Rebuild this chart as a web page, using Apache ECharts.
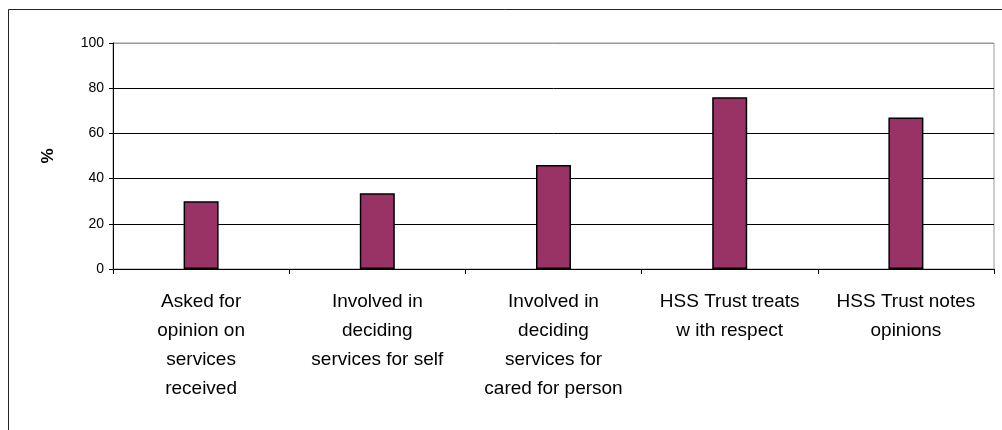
<!DOCTYPE html>
<html>
<head>
<meta charset="utf-8">
<script src="https://cdn.jsdelivr.net/npm/echarts@6/dist/echarts.min.js"></script>
<style>
  html, body { margin: 0; padding: 0; background: #fff; }
  #chart { width: 1002px; height: 430px; }
</style>
</head>
<body>
<div id="chart"></div>
<script>
// survey questions (wrapped like the original)
var categories = [
    'Asked for\nopinion on\nservices\nreceived',
    'Involved in\ndeciding\nservices for self',
    'Involved in\ndeciding\nservices for\ncared for person',
    'HSS Trust treats\nw ith respect',
    'HSS Trust notes\nopinions'
];
var percents = [30, 33.5, 46, 76, 67];
var yTicks = { min: 0, max: 100, step: 20 };

var myChart = echarts.init(document.getElementById('chart'));

var option = {
    animation: false,
    textStyle: { fontFamily: 'Liberation Sans, Arial, sans-serif' },
    graphic: [{
        type: 'rect',
        shape: { x: 8.5, y: 9.5, width: 1200, height: 600 },
        style: { fill: 'none', stroke: '#222', lineWidth: 1 },
        silent: true
    }],
    grid: {
        left: 113, right: 8, top: 43, bottom: 161,
        show: true, borderColor: '#999', borderWidth: 1, backgroundColor: '#fff'
    },
    xAxis: {
        type: 'category',
        data: categories,
        axisLine: { lineStyle: { color: '#000', width: 1 } },
        axisTick: { show: true, length: 5, lineStyle: { color: '#000' } },
        axisLabel: {
            interval: 0, margin: 18, color: '#000',
            fontSize: 19, lineHeight: 29, align: 'center'
        }
    },
    yAxis: {
        type: 'value',
        min: yTicks.min, max: yTicks.max, interval: yTicks.step,
        name: '%', nameLocation: 'middle', nameGap: 56, nameRotate: 90,
        nameTextStyle: { fontSize: 17, fontWeight: 'bold', color: '#000' },
        axisLine: { show: true, lineStyle: { color: '#000' } },
        axisTick: { show: true, length: 4, lineStyle: { color: '#000' } },
        axisLabel: { margin: 9, fontSize: 14, color: '#000' },
        splitLine: { lineStyle: { color: ['#000', '#000', '#000', '#000', '#000', '#999'], width: 1 } }
    },
    series: [{
        type: 'bar',
        data: percents,
        barWidth: 35,
        itemStyle: { color: '#993366', borderColor: '#000', borderWidth: 1.5 }
    }]
};

option && myChart.setOption(option);
</script>
</body>
</html>
